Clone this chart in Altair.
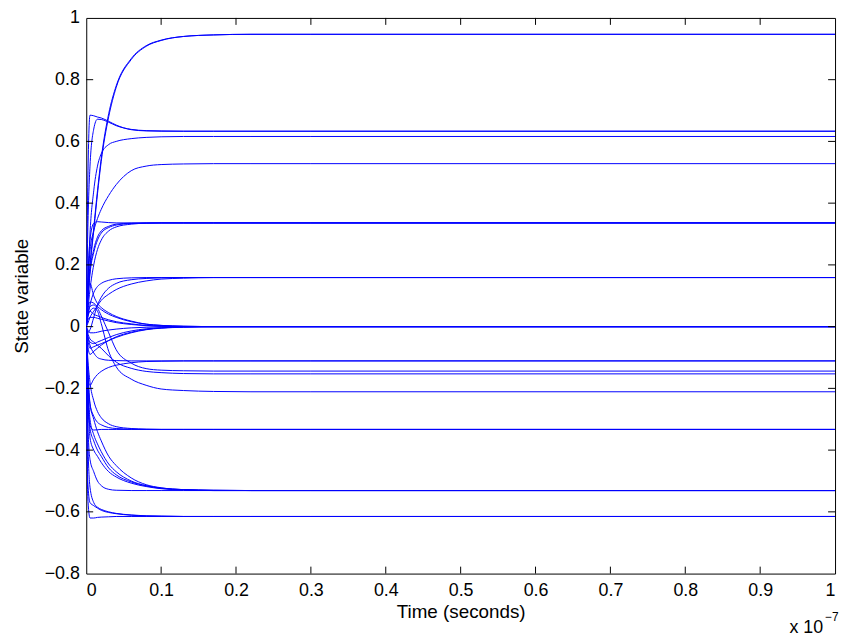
import altair as alt
import pandas as pd

# time grid (units of 1e-7 s)
T = [0, 0.002, 0.005, 0.01, 0.015, 0.02, 0.03, 0.04, 0.06, 0.08, 0.1, 0.13, 0.17, 0.22, 0.3, 1.0]

to_p947 = [
    [0.0, 0.10, 0.20, 0.32, 0.44, 0.545, 0.69, 0.78, 0.868, 0.91, 0.928, 0.94, 0.945, 0.947, 0.947, 0.947],
    [0.0, 0.09, 0.19, 0.31, 0.43, 0.535, 0.68, 0.775, 0.865, 0.908, 0.927, 0.94, 0.945, 0.947, 0.947, 0.947],
]
to_p633 = [
    [0.0, 0.45, 0.685, 0.683, 0.679, 0.676, 0.665, 0.653, 0.638, 0.634, 0.633, 0.633, 0.633, 0.633, 0.633, 0.633],
    [0.0, 0.30, 0.52, 0.64, 0.672, 0.671, 0.662, 0.651, 0.639, 0.635, 0.634, 0.633, 0.633, 0.633, 0.633, 0.633],
]
to_p616 = [
    [0.0, 0.12, 0.30, 0.44, 0.52, 0.56, 0.59, 0.60, 0.609, 0.613, 0.615, 0.616, 0.616, 0.616, 0.616, 0.616],
]
to_p528 = [
    [0.0, 0.12, 0.245, 0.31, 0.35, 0.38, 0.425, 0.46, 0.505, 0.52, 0.525, 0.527, 0.528, 0.528, 0.528, 0.528],
]
to_p336 = [
    [0.0, 0.15, 0.28, 0.335, 0.34, 0.339, 0.337, 0.336, 0.336, 0.336, 0.336, 0.336, 0.336, 0.336, 0.336, 0.336],
    [0.0, 0.09, 0.18, 0.25, 0.29, 0.31, 0.325, 0.332, 0.335, 0.336, 0.336, 0.336, 0.336, 0.336, 0.336, 0.336],
    [0.0, 0.07, 0.17, 0.24, 0.28, 0.303, 0.321, 0.329, 0.334, 0.335, 0.336, 0.336, 0.336, 0.336, 0.336, 0.336],
    [0.0, 0.05, 0.12, 0.20, 0.25, 0.28, 0.31, 0.323, 0.332, 0.335, 0.336, 0.336, 0.336, 0.336, 0.336, 0.336],
]
to_p159 = [
    [0.0, -0.02, -0.01, 0.03, 0.07, 0.095, 0.125, 0.14, 0.152, 0.156, 0.158, 0.159, 0.159, 0.159, 0.159, 0.159],
    [0.0, 0.01, 0.03, 0.05, 0.068, 0.085, 0.105, 0.12, 0.138, 0.148, 0.154, 0.157, 0.159, 0.159, 0.159, 0.159],
    [0.0, 0.03, 0.07, 0.11, 0.13, 0.14, 0.15, 0.155, 0.158, 0.159, 0.159, 0.159, 0.159, 0.159, 0.159, 0.159],
]
to_zero = [
    [0.0, 0.05, 0.08, 0.076, 0.065, 0.055, 0.04, 0.03, 0.016, 0.008, 0.004, 0.001, 0.0, 0.0, 0.0, 0.0],
    [0.0, -0.03, -0.05, -0.055, -0.05, -0.045, -0.035, -0.026, -0.014, -0.007, -0.004, -0.001, 0.0, 0.0, 0.0, 0.0],
    [0.0, 0.02, 0.03, 0.03, 0.027, 0.024, 0.018, 0.013, 0.007, 0.003, 0.001, 0.0, 0.0, 0.0, 0.0, 0.0],
    [0.0, -0.01, -0.02, -0.02, -0.018, -0.015, -0.011, -0.008, -0.004, -0.002, -0.001, 0.0, 0.0, 0.0, 0.0, 0.0],
    [0.0, 0.10, 0.14, 0.10, 0.075, 0.062, 0.045, 0.033, 0.018, 0.008, 0.004, 0.001, 0.0, 0.0, 0.0, 0.0],
    [0.0, -0.06, -0.09, -0.08, -0.07, -0.06, -0.045, -0.033, -0.018, -0.009, -0.004, -0.001, 0.0, 0.0, 0.0, 0.0],
    [0.0, 0.04, 0.05, 0.04, 0.035, 0.03, 0.022, 0.016, 0.009, 0.004, 0.002, 0.001, 0.0, 0.0, 0.0, 0.0],
    [0.0, -0.04, -0.07, -0.065, -0.06, -0.055, -0.045, -0.035, -0.02, -0.01, -0.005, -0.002, 0.0, 0.0, 0.0, 0.0],
]
to_m111 = [
    [0.0, -0.17, -0.19, -0.17, -0.155, -0.145, -0.132, -0.125, -0.117, -0.113, -0.112, -0.111, -0.111, -0.111, -0.111, -0.111],
    [0.0, -0.03, -0.06, -0.085, -0.10, -0.105, -0.109, -0.11, -0.111, -0.111, -0.111, -0.111, -0.111, -0.111, -0.111, -0.111],
]
to_m144 = [
    [0.0, 0.04, 0.065, 0.07, 0.06, 0.035, -0.02, -0.075, -0.118, -0.136, -0.141, -0.143, -0.144, -0.144, -0.144, -0.144],
]
to_m153 = [
    [0.0, -0.02, -0.04, -0.05, -0.06, -0.07, -0.095, -0.115, -0.135, -0.145, -0.149, -0.152, -0.153, -0.153, -0.153, -0.153],
]
to_m211 = [
    [0.0, 0.03, 0.05, 0.06, 0.05, 0.01, -0.08, -0.13, -0.17, -0.19, -0.202, -0.207, -0.21, -0.211, -0.211, -0.211],
]
to_m333 = [
    [0.0, -0.15, -0.25, -0.29, -0.31, -0.318, -0.327, -0.33, -0.332, -0.333, -0.333, -0.333, -0.333, -0.333, -0.333, -0.333],
    [0.0, -0.25, -0.32, -0.335, -0.334, -0.333, -0.333, -0.333, -0.333, -0.333, -0.333, -0.333, -0.333, -0.333, -0.333, -0.333],
    [0.0, -0.10, -0.18, -0.24, -0.275, -0.295, -0.315, -0.324, -0.33, -0.332, -0.333, -0.333, -0.333, -0.333, -0.333, -0.333],
]
to_m531 = [
    [0.0, -0.12, -0.25, -0.30, -0.34, -0.37, -0.42, -0.45, -0.49, -0.512, -0.522, -0.528, -0.53, -0.531, -0.531, -0.531],
    [0.0, -0.20, -0.36, -0.40, -0.42, -0.44, -0.47, -0.487, -0.507, -0.518, -0.525, -0.529, -0.531, -0.531, -0.531, -0.531],
    [0.0, -0.15, -0.30, -0.35, -0.38, -0.405, -0.445, -0.47, -0.50, -0.515, -0.523, -0.528, -0.53, -0.531, -0.531, -0.531],
    [0.0, -0.18, -0.33, -0.37, -0.40, -0.42, -0.458, -0.48, -0.503, -0.516, -0.524, -0.528, -0.531, -0.531, -0.531, -0.531],
    [0.0, -0.30, -0.43, -0.47, -0.50, -0.515, -0.527, -0.53, -0.531, -0.531, -0.531, -0.531, -0.531, -0.531, -0.531, -0.531],
]
to_m615 = [
    [0.0, -0.55, -0.62, -0.62, -0.618, -0.617, -0.616, -0.615, -0.615, -0.615, -0.615, -0.615, -0.615, -0.615, -0.615, -0.615],
    [0.0, -0.50, -0.57, -0.58, -0.588, -0.595, -0.602, -0.606, -0.611, -0.613, -0.614, -0.615, -0.615, -0.615, -0.615, -0.615],
    [0.0, -0.35, -0.52, -0.57, -0.585, -0.592, -0.60, -0.605, -0.61, -0.613, -0.614, -0.615, -0.615, -0.615, -0.615, -0.615],
]

x_ticks = [0, 0.1, 0.2, 0.3, 0.4, 0.5, 0.6, 0.7, 0.8, 0.9, 1]
y_ticks = [-0.8, -0.6, -0.4, -0.2, 0, 0.2, 0.4, 0.6, 0.8, 1]

groups = [to_p947, to_p633, to_p616, to_p528, to_p336, to_p159, to_zero,
          to_m111, to_m144, to_m153, to_m211, to_m333, to_m531, to_m615]
rows = []
cid = 0
for g in groups:
    for curve in g:
        for t, v in zip(T, curve):
            rows.append({"curve": cid, "t": t, "v": v})
        cid += 1
df = pd.DataFrame(rows)

W, H = 756, 561
FONT = "Liberation Sans"
LFS = 18
TFS = 19

xenc = alt.X("t:Q", scale=alt.Scale(domain=[0, 1], nice=False, zero=False),
             axis=alt.Axis(values=x_ticks, format="~g", ticks=False, domain=False, grid=False,
                           labelFontSize=LFS, labelPadding=8, labelColor="black", labelFont=FONT,
                           title="Time (seconds)", titleFontSize=TFS, titleFontWeight="normal",
                           titleFont=FONT, titleColor="black", titlePadding=3))
yenc = alt.Y("v:Q", scale=alt.Scale(domain=[-0.8, 1], nice=False, zero=False),
             axis=alt.Axis(values=y_ticks, format="~g", ticks=False, domain=False, grid=False,
                           labelFontSize=LFS, labelPadding=7, labelColor="black", labelFont=FONT,
                           title="State variable", titleFontSize=TFS, titleFontWeight="normal",
                           titleFont=FONT, titleColor="black", titlePadding=13))

lines = alt.Chart(df).mark_line(color="#0000ff", strokeWidth=1, interpolate="monotone", clip=True).encode(
    x=xenc, y=yenc, detail="curve:N")

xt = pd.DataFrame({"t": x_ticks[1:-1]})
yt = pd.DataFrame({"v": y_ticks[1:-1]})
TL = 7
tick_bottom = alt.Chart(xt).mark_rule(color="black", strokeWidth=1).encode(
    x=alt.X("t:Q"), y=alt.value(H), y2=alt.value(H - TL))
tick_top = alt.Chart(xt).mark_rule(color="black", strokeWidth=1).encode(
    x=alt.X("t:Q"), y=alt.value(0), y2=alt.value(TL))
tick_left = alt.Chart(yt).mark_rule(color="black", strokeWidth=1).encode(
    y=alt.Y("v:Q"), x=alt.value(0), x2=alt.value(TL))
tick_right = alt.Chart(yt).mark_rule(color="black", strokeWidth=1).encode(
    y=alt.Y("v:Q"), x=alt.value(W), x2=alt.value(W - TL))

exp_base = alt.Chart(pd.DataFrame({"s": ["x 10"]})).mark_text(
    align="left", baseline="middle", fontSize=LFS, font=FONT, color="black").encode(
    text="s:N", x=alt.value(710), y=alt.value(616))
exp_sup = alt.Chart(pd.DataFrame({"s": ["\u22127"]})).mark_text(
    align="left", baseline="middle", fontSize=12, font=FONT, color="black").encode(
    text="s:N", x=alt.value(746), y=alt.value(605))

chart = alt.layer(lines, tick_bottom, tick_top, tick_left, tick_right, exp_base, exp_sup).properties(
    width=W, height=H,
    autosize=alt.AutoSizeParams(type="none"),
    padding={"left": 79, "top": 7, "right": 4, "bottom": 62},
    background="white",
).configure_view(stroke="black", strokeWidth=1)

chart.save("out.html", embed_options={"renderer": "svg", "actions": False})
